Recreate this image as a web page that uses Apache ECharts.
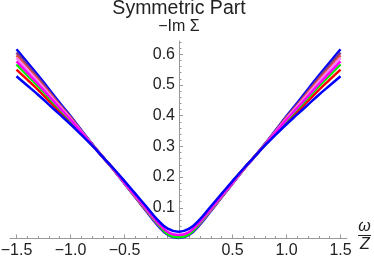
<!DOCTYPE html>
<html><head><meta charset="utf-8">
<script src="https://cdn.jsdelivr.net/npm/echarts@6/dist/echarts.min.js"></script>
<style>html,body{margin:0;padding:0;background:#fff}#c{width:374px;height:258px}</style>
</head><body><div id="c"></div>
<script>
const omega = [-1.5,-1.4,-1.3,-1.2,-1.1,-1.0,-0.9,-0.8,-0.7,-0.6,-0.5,-0.4,-0.3,-0.2,-0.1,0,0.1,0.2,0.3,0.4,0.5,0.6,0.7,0.8,0.9,1.0,1.1,1.2,1.3,1.4,1.5];
const blueTop = [0.616,0.574,0.531,0.487,0.442,0.399,0.353,0.308,0.265,0.223,0.178,0.134,0.090,0.046,0.012,0.002,0.012,0.046,0.090,0.134,0.178,0.223,0.265,0.308,0.353,0.399,0.442,0.487,0.531,0.574,0.616];
const purple = [0.605,0.564,0.523,0.480,0.437,0.396,0.351,0.307,0.265,0.223,0.180,0.135,0.092,0.049,0.014,0.004,0.014,0.049,0.092,0.135,0.180,0.223,0.265,0.307,0.351,0.396,0.437,0.480,0.523,0.564,0.605];
const orange = [0.596,0.556,0.517,0.475,0.433,0.393,0.349,0.307,0.265,0.224,0.180,0.136,0.093,0.051,0.016,0.006,0.016,0.051,0.093,0.136,0.180,0.224,0.265,0.307,0.349,0.393,0.433,0.475,0.517,0.556,0.596];
const violet = [0.588,0.550,0.511,0.470,0.430,0.390,0.348,0.306,0.265,0.224,0.181,0.138,0.095,0.052,0.018,0.008,0.018,0.052,0.095,0.138,0.181,0.224,0.265,0.306,0.348,0.390,0.430,0.470,0.511,0.550,0.588];
const red = [0.550,0.517,0.484,0.448,0.413,0.379,0.342,0.304,0.265,0.226,0.185,0.142,0.100,0.056,0.019,0.008,0.019,0.056,0.100,0.142,0.185,0.226,0.265,0.304,0.342,0.379,0.413,0.448,0.484,0.517,0.550];
const green = [0.567,0.531,0.496,0.458,0.421,0.384,0.344,0.305,0.265,0.225,0.183,0.139,0.096,0.052,0.015,0.004,0.015,0.052,0.096,0.139,0.183,0.225,0.265,0.305,0.344,0.384,0.421,0.458,0.496,0.531,0.567];
const magenta = [0.577,0.540,0.503,0.464,0.425,0.387,0.346,0.305,0.265,0.225,0.182,0.139,0.097,0.055,0.021,0.011,0.021,0.055,0.097,0.139,0.182,0.225,0.265,0.305,0.346,0.387,0.425,0.464,0.503,0.540,0.577];
const blueBottom = [0.528,0.498,0.468,0.436,0.404,0.372,0.338,0.303,0.265,0.227,0.187,0.146,0.105,0.063,0.032,0.022,0.032,0.063,0.105,0.146,0.187,0.227,0.265,0.303,0.338,0.372,0.404,0.436,0.468,0.498,0.528];

const xMajorTicks = [-1.5,-1.0,-0.5,0.5,1.0,1.5];
const xMinorTicks = [-1.4,-1.3,-1.2,-1.1,-0.9,-0.8,-0.7,-0.6,-0.4,-0.3,-0.2,-0.1,0.1,0.2,0.3,0.4,0.6,0.7,0.8,0.9,1.1,1.2,1.3,1.4];
const yMajorTicks = [0.1,0.2,0.3,0.4,0.5,0.6];
const yMinorTicks = [0.02,0.04,0.06,0.08,0.12,0.14,0.16,0.18,0.22,0.24,0.26,0.28,0.32,0.34,0.36,0.38,0.42,0.44,0.46,0.48,0.52,0.54,0.56,0.58,0.62,0.64];

const FONT = '"Liberation Sans", Arial, sans-serif';
const AX = '#999';
const TXT = '#222';
const GRID_LEFT = 10, YAXIS_X = 179;
function fmt(v){ return (v<0?'\u2212':'') + Math.abs(v).toFixed(1); }
function pairs(ys){ return omega.map((x,i)=>[x, ys[i]]); }

const curves = [
  ['blueTop', blueTop, '#0000ff'],
  ['purple', purple, '#7a3a8a'],
  ['orange', orange, '#e8503a'],
  ['violet', violet, '#ff80ff'],
  ['red', red, '#ff0000'],
  ['green', green, '#00ee00'],
  ['magenta', magenta, '#ff00ff'],
  ['blueBottom', blueBottom, '#0000ff']
];

const chart = echarts.init(document.getElementById('c'), null, {renderer:'canvas'});
chart.setOption({
  animation: false,
  backgroundColor: '#fff',
  grid: {left: GRID_LEFT, right: 27, top: 41, bottom: 19.5, containLabel: false, outerBoundsMode: 'none'},
  xAxis: [{
    type: 'value', min: -1.56, max: 1.56, position: 'bottom',
    axisLine: {show: true, onZero: false, lineStyle: {color: AX, width: 1}},
    axisTick: {show: true, inside: true, length: 4, customValues: xMajorTicks, lineStyle: {color: AX}},
    axisLabel: {show: true, customValues: xMajorTicks, formatter: fmt, color: TXT, fontSize: 16, fontFamily: FONT, margin: 4},
    splitLine: {show: false}
  }, {
    type: 'value', min: -1.56, max: 1.56, position: 'bottom',
    axisLine: {show: false, onZero: false},
    axisTick: {show: true, inside: true, length: 2.5, customValues: xMinorTicks, lineStyle: {color: AX}},
    axisLabel: {show: false},
    splitLine: {show: false}
  }],
  yAxis: [{
    type: 'value', min: 0, max: 0.643, position: 'left', offset: GRID_LEFT - YAXIS_X,
    axisLine: {show: true, onZero: false, lineStyle: {color: AX, width: 1}},
    axisTick: {show: true, inside: true, length: 4, customValues: yMajorTicks, lineStyle: {color: AX}},
    axisLabel: {show: true, customValues: yMajorTicks, formatter: v => v.toFixed(1), color: TXT, fontSize: 16, fontFamily: FONT, margin: 4},
    splitLine: {show: false}
  }, {
    type: 'value', min: 0, max: 0.643, position: 'left', offset: GRID_LEFT - YAXIS_X,
    axisLine: {show: false, onZero: false},
    axisTick: {show: true, inside: true, length: 2.5, customValues: yMinorTicks, lineStyle: {color: AX}},
    axisLabel: {show: false},
    splitLine: {show: false}
  }],
  series: curves.map(c => ({
    name: c[0], type: 'line', xAxisIndex: 0, yAxisIndex: 0,
    data: pairs(c[1]), smooth: 0.4, showSymbol: false, symbol: 'none',
    lineStyle: {color: c[2], width: 2.5}, clip: false
  })),
  graphic: [
    {type: 'text', x: 179, y: 9, style: {text: 'Symmetric Part', font: '19.5px ' + FONT, fill: TXT, align: 'center', verticalAlign: 'middle'}},
    {type: 'text', x: 179, y: 27, style: {text: '\u2212Im \u03A3', font: '16px ' + FONT, fill: TXT, align: 'center', verticalAlign: 'middle'}},
    {type: 'text', x: 364.5, y: 227, style: {text: '\u03C9', font: 'italic 16px ' + FONT, fill: TXT, align: 'center', verticalAlign: 'middle'}},
    {type: 'line', shape: {x1: 358, y1: 235.5, x2: 371, y2: 235.5}, style: {stroke: TXT, lineWidth: 1}},
    {type: 'text', x: 365, y: 245, style: {text: 'Z', font: 'italic 16px ' + FONT, fill: TXT, align: 'center', verticalAlign: 'middle'}}
  ]
});
</script>
</body></html>
